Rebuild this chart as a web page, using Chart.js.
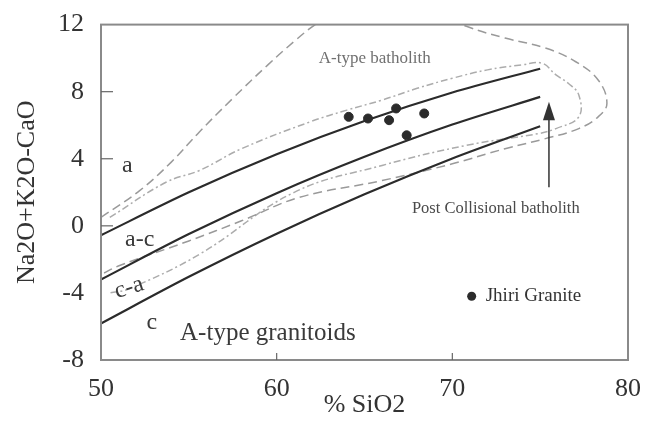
<!DOCTYPE html>
<html>
<head>
<meta charset="utf-8">
<script src="https://cdn.jsdelivr.net/npm/chart.js@4/dist/chart.umd.min.js"></script>
<style>
  html, body { margin: 0; padding: 0; background: #fff; }
  #wrap { width: 647px; height: 421px; }
</style>
</head>
<body>
<div id="wrap"><canvas id="chart-mali"></canvas></div>
<script>
// boundary lines
const siO2Grid = [50, 55, 60, 65, 70, 75];
const alkalicLine = [-0.56, 2.0, 4.27, 6.25, 7.95, 9.37];
const alkaliCalcicLine = [-3.2, -0.49, 1.95, 4.12, 6.04, 7.69];
const calcAlkalicLine = [-5.82, -3.04, -0.47, 1.88, 4.02, 5.94];

// Jhiri Granite samples
const jhiriSiO2 = [64.1, 65.2, 66.8, 66.4, 68.4, 67.4];
const jhiriMali = [6.5, 6.4, 7.0, 6.3, 6.7, 5.4];

// A-type batholith field outline
const aTypeSiO2 = [50, 52.2, 54, 55.6, 57.5, 59.5, 61, 62.2, 63.5, 66, 69, 70.8, 73, 75.3, 77, 78.3, 78.8, 78.3, 77.2, 75.3, 73, 70, 66, 61.3, 58, 55, 51.1, 50];
const aTypeMali = [0.5, 2.1, 3.8, 5.6, 7.6, 9.6, 11.0, 12.0, 12.8, 13.4, 12.8, 11.9, 11.2, 10.6, 9.8, 8.7, 7.3, 6.5, 5.8, 5.2, 4.6, 3.7, 2.7, 1.7, 0.3, -0.9, -2.35, -2.9];

// Post collisional batholith field outline
const postSiO2 = [50.5, 53.7, 55.6, 58, 61.9, 64, 66, 68, 70, 72, 74, 75.1, 75.9, 76.6, 77.2, 77.2, 75.9, 74.9, 70.8, 66, 61, 55.6, 51.6, 50.5];
const postMali = [0.5, 2.6, 3.3, 4.6, 6.2, 6.9, 7.5, 8.2, 8.8, 9.3, 9.6, 9.7, 9.0, 8.5, 7.8, 6.5, 5.8, 5.5, 4.8, 3.6, 2.0, -1.7, -3.75, -4.0];

const xTicks = [50, 60, 70, 80];
const yTicks = [-8, -4, 0, 4, 8, 12];

const serif = "'Liberation Serif', 'DejaVu Serif', serif";

function toPoints(xs, ys) {
    return xs.map((x, i) => ({ x: x, y: ys[i] }));
}

function boundary(xs, ys) {
    return {
        data: toPoints(xs, ys),
        showLine: true,
        borderColor: '#2b2b2b',
        borderWidth: 2.2,
        pointRadius: 0,
        tension: 0.3,
        clip: 0,
    };
}

const decorPlugin = {
    id: 'decor',
    afterDatasetsDraw(chart) {
        const { ctx, chartArea } = chart;
        const xs = chart.scales.x;
        const ys = chart.scales.y;
        const px = v => xs.getPixelForValue(v);
        const py = v => ys.getPixelForValue(v);
        ctx.save();

        // frame
        ctx.strokeStyle = '#8a8a8a';
        ctx.lineWidth = 2;
        ctx.strokeRect(chartArea.left, chartArea.top, chartArea.right - chartArea.left, chartArea.bottom - chartArea.top);

        // inward ticks
        ctx.lineWidth = 1.2;
        ctx.strokeStyle = '#666';
        [60, 70].forEach(v => {
            ctx.beginPath();
            ctx.moveTo(px(v), chartArea.bottom);
            ctx.lineTo(px(v), chartArea.bottom - 7);
            ctx.stroke();
        });
        [0, 4, 8].forEach(v => {
            ctx.beginPath();
            ctx.moveTo(chartArea.left, py(v));
            ctx.lineTo(chartArea.left + 12, py(v));
            ctx.stroke();
        });

        // field labels
        const label = (txt, x, y, size, color, align, rot) => {
            ctx.save();
            ctx.font = size + 'px ' + serif;
            ctx.fillStyle = color;
            ctx.textAlign = align || 'center';
            ctx.textBaseline = 'middle';
            ctx.translate(px(x), py(y));
            if (rot) ctx.rotate(rot);
            ctx.fillText(txt, 0, 0);
            ctx.restore();
        };
        label('a', 51.5, 3.6, 24, '#3a3a3a');
        label('a-c', 52.2, -0.85, 24, '#3a3a3a');
        label('c-a', 51.6, -3.7, 24, '#3a3a3a', 'center', -0.3);
        label('c', 52.9, -5.8, 24, '#3a3a3a');
        label('A-type granitoids', 54.5, -6.4, 25, '#3a3a3a', 'left');
        label('A-type batholith', 62.4, 10.0, 17, '#707070', 'left');
        label('Post Collisional batholith', 67.7, 1.0, 16.5, '#4a4a4a', 'left');

        // arrow to post collisional field
        ctx.strokeStyle = '#333';
        ctx.fillStyle = '#333';
        ctx.lineWidth = 1.5;
        ctx.beginPath();
        ctx.moveTo(px(75.5), py(2.3));
        ctx.lineTo(px(75.5), py(6.9));
        ctx.stroke();
        ctx.beginPath();
        ctx.moveTo(px(75.5), py(7.4));
        ctx.lineTo(px(75.5) - 6, py(6.3));
        ctx.lineTo(px(75.5) + 6, py(6.3));
        ctx.closePath();
        ctx.fill();

        // sample legend
        ctx.beginPath();
        ctx.arc(px(71.1), py(-4.2), 4.5, 0, Math.PI * 2);
        ctx.fillStyle = '#2b2b2b';
        ctx.fill();
        label('Jhiri Granite', 71.9, -4.2, 19, '#333', 'left');

        ctx.restore();
    }
};

function getMaliChart() {
    const ctx = document.getElementById('chart-mali');

    const datasets = [
        boundary(siO2Grid, alkalicLine),
        boundary(siO2Grid, alkaliCalcicLine),
        boundary(siO2Grid, calcAlkalicLine),
        {
            data: toPoints(aTypeSiO2, aTypeMali),
            showLine: true,
            borderColor: '#9a9a9a',
            borderWidth: 1.5,
            borderDash: [9, 5],
            pointRadius: 0,
            tension: 0.4,
            clip: 0,
        },
        {
            data: toPoints(postSiO2, postMali),
            showLine: true,
            borderColor: '#acacac',
            borderWidth: 1.5,
            borderDash: [7, 3, 2, 3],
            pointRadius: 0,
            tension: 0.4,
            clip: 0,
        },
        {
            data: toPoints(jhiriSiO2, jhiriMali),
            showLine: false,
            pointRadius: 4.5,
            pointBackgroundColor: '#2b2b2b',
            pointBorderColor: '#2b2b2b',
            clip: 0,
        },
    ];

    const options = {
        responsive: true,
        maintainAspectRatio: false,
        animation: false,
        layout: { padding: { top: 16, right: 17, left: 0, bottom: 0 } },
        scales: {
            x: {
                type: 'linear',
                min: 50,
                max: 80,
                afterBuildTicks: s => { s.ticks = xTicks.map(v => ({ value: v })); },
                afterFit: s => { s.height = 61; },
                grid: { display: false },
                border: { display: false },
                ticks: { font: { family: serif, size: 26 }, color: '#333', padding: 6 },
                title: { display: true, text: '% SiO2', font: { family: serif, size: 26 }, color: '#333', padding: 0 },
            },
            y: {
                type: 'linear',
                min: -8,
                max: 12,
                afterBuildTicks: s => { s.ticks = yTicks.map(v => ({ value: v })); },
                afterFit: s => { s.width = 101; },
                grid: { display: false },
                border: { display: false },
                ticks: { font: { family: serif, size: 26 }, color: '#333', padding: 9 },
                title: { display: true, text: 'Na2O+K2O-CaO', font: { family: serif, size: 26 }, color: '#333', padding: { top: 12, bottom: 0 } },
            }
        },
        plugins: {
            legend: { display: false },
            tooltip: { enabled: false },
        }
    };

    new Chart(ctx, {
        type: 'scatter',
        data: { datasets },
        options,
        plugins: [decorPlugin]
    });
}

getMaliChart();
</script>
</body>
</html>
